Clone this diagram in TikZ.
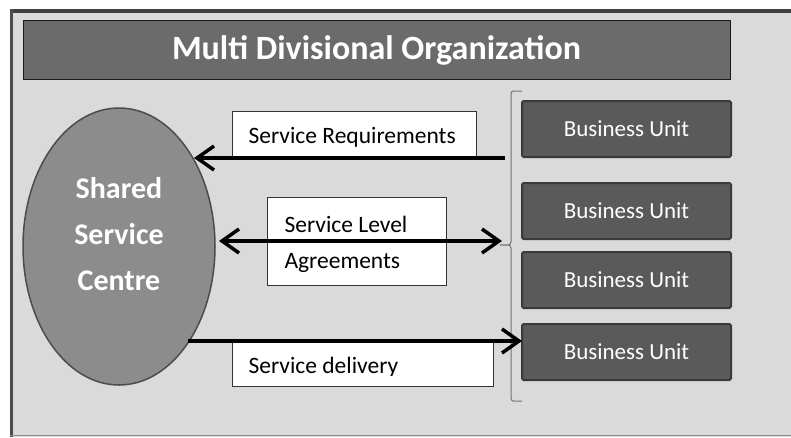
\documentclass[tikz,border=0pt]{standalone}
\usepackage{fontspec}
\setmainfont{Carlito}
\usetikzlibrary{arrows.meta,shapes.geometric}
\definecolor{bggray}{HTML}{DADADA}
\definecolor{titlegray}{HTML}{6B6B6B}
\definecolor{ovalgray}{HTML}{8C8C8C}
\definecolor{unitgray}{HTML}{5A5A5A}
\definecolor{edgegray}{HTML}{3A3A3A}
\tikzset{
  unitbox/.style={draw=edgegray, line width=2pt, fill=unitgray, rounded corners=1.5pt,
    minimum width=209pt, minimum height=56pt, inner sep=0pt,
    text=white, font=\fontsize{23}{26}\selectfont},
  labelbox/.style={draw=black!80, line width=0.8pt, fill=white, inner sep=0pt},
  labeltext/.style={anchor=west, font=\fontsize{23.5}{26}\selectfont},
  flow/.style={line width=3.5pt, black},
  barbtip/.tip={Straight Barb[length=17pt,width=24pt]}
}
\begin{document}
\begin{tikzpicture}[x=1pt,y=-1pt]
\useasboundingbox (0,0) rectangle (791,437);
% panel
\fill[bggray] (10,9) rectangle (791,437);
\fill[black!75] (10,9) rectangle (791,13);
\fill[black!70] (10,9) rectangle (13,437);
\draw[black!45, line width=0.8pt] (10,435.5) -- (791,435.5);
% title bar
\node[draw=black!90, line width=1pt, fill=titlegray, minimum width=707pt, minimum height=59pt,
  inner sep=0pt, text=white, font=\bfseries\fontsize{34}{38}\selectfont]
  (title) at (376.5,50) {Multi Divisional Organization};
% shared service centre
\node[ellipse, draw=black!70, line width=1.5pt, fill=ovalgray, minimum width=192pt,
  minimum height=277pt, inner sep=0pt] (ssc) at (119,246.5) {};
\node[text=white, font=\bfseries\fontsize{30}{46}\selectfont, align=center]
  (ssctext) at (119,234) {Shared\\Service\\Centre};
% business units
\node[unitbox] (bu1) at (626.5,129) {Business Unit};
\node[unitbox] (bu2) at (626.5,211) {Business Unit};
\node[unitbox] (bu3) at (626.5,280) {Business Unit};
\node[unitbox] (bu4) at (626.5,352) {Business Unit};
% bracket grouping the units
\coordinate (brtop) at (522,91);
\coordinate (brmid) at (500,245);
\coordinate (brbot) at (522,401);
\draw[black!55, line width=1pt]
  (brtop) -- (513,91) to[out=180,in=90] (511,94) -- (511,242) to[out=-90,in=0] (brmid)
  (brmid) to[out=0,in=90] (511,248) -- (511,398) to[out=-90,in=180] (513,401) -- (brbot);
% label boxes
\node[labelbox, minimum width=244pt, minimum height=46pt] (lreq) at (354,134) {};
\node[labelbox, minimum width=179pt, minimum height=88pt] (lsla) at (356.5,241) {};
\node[labelbox, minimum width=261pt, minimum height=47pt] (ldel) at (362.5,362.5) {};
\node[labeltext] (treq) at (245,137) {Service Requirements};
\node[labeltext] (tsla1) at (281,224) {Service Level};
\node[labeltext] (tsla2) at (281,263) {Agreements};
% the delivery label is cut off just under its baseline
\begin{scope}
  \clip (232,339) rectangle (493,375);
  \node[labeltext] (tdel) at (245,367) {Service delivery};
\end{scope}
% connectors
\coordinate (reqstart) at (505,158);
\coordinate (reqend) at (194,158);
\coordinate (slastart) at (219,241);
\coordinate (slaend) at (502,241);
\coordinate (delstart) at (188,341);
\coordinate (delend) at (522,341);
\draw[flow, -{barbtip}] (reqstart) -- (reqend);
\draw[flow, {barbtip}-{barbtip}] (slastart) -- (slaend);
\draw[flow, -{barbtip}] (delstart) -- (delend);
\end{tikzpicture}
\end{document}
